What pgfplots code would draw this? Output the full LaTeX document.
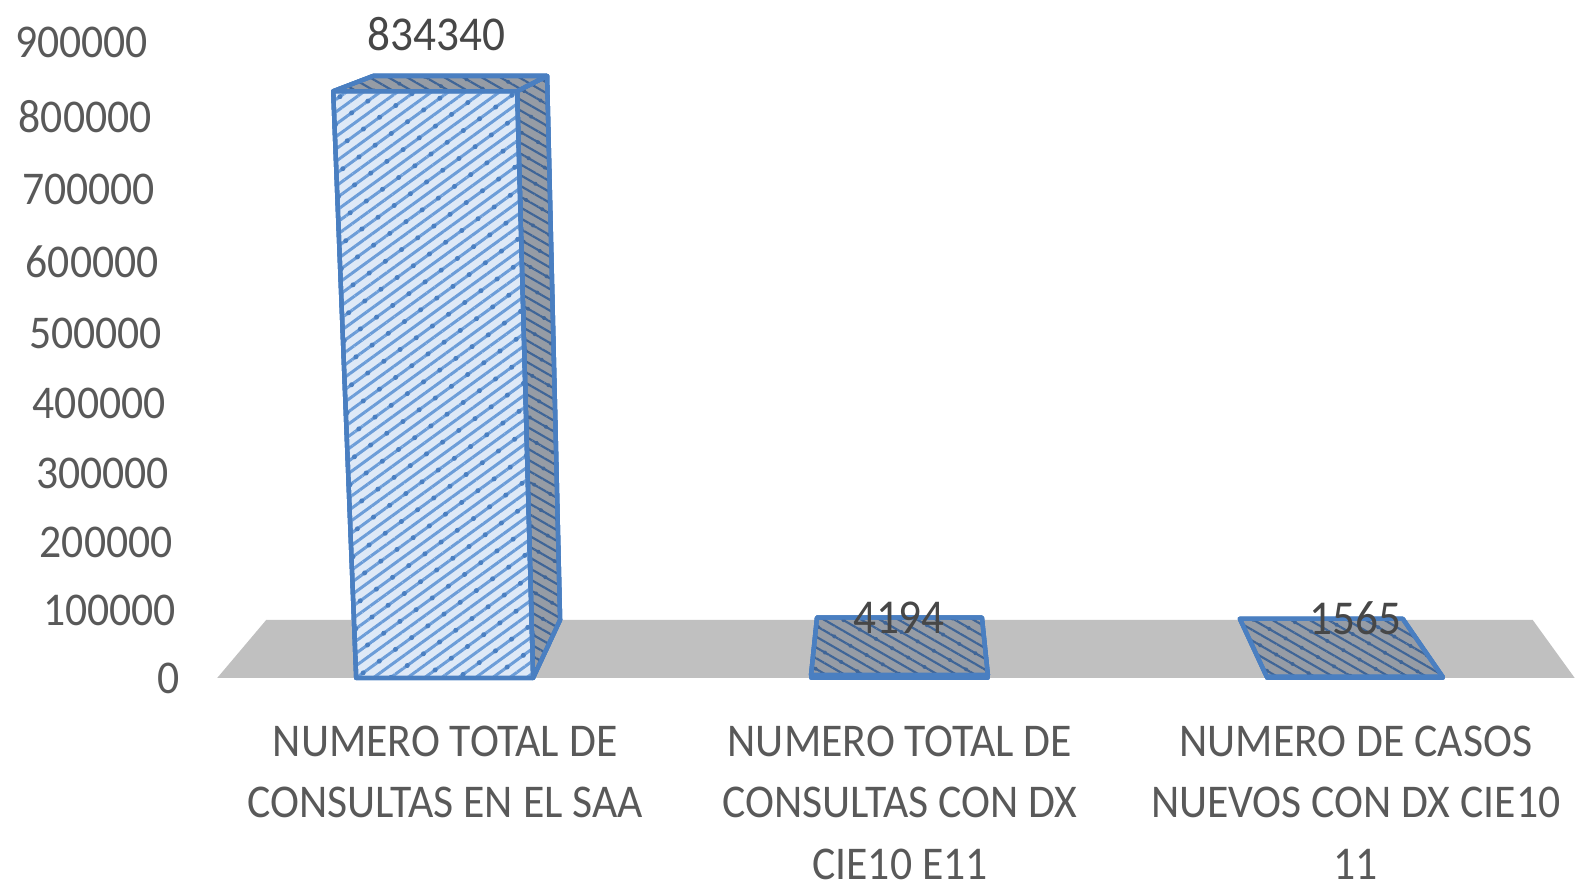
\documentclass[border=0pt]{standalone}
\usepackage{fontspec}
\setmainfont[FakeStretch=0.93]{Carlito}
\usepackage{pgfplots}
\pgfplotsset{compat=1.18}
\usetikzlibrary{patterns.meta}
\definecolor{edgeblue}{HTML}{4A7FC1}
\definecolor{hatchblue}{HTML}{6C9DD8}
\definecolor{frontblue}{HTML}{DEE9F7}
\definecolor{floorgrey}{HTML}{C0C0C0}
\definecolor{sidegrey}{HTML}{969CA5}
\definecolor{darkhatchblue}{HTML}{3F6597}
\definecolor{textgrey}{HTML}{595959}
% 1 px of the reference = 0.3pt
\tikzset{
  fronthatch/.style={
    postaction={pattern={Lines[angle=36,distance=3pt,line width=0.9pt]},pattern color=hatchblue},
    postaction={pattern={Dots[radius=0.75pt,distance=6pt,angle=36]},pattern color=edgeblue}},
  darkhatch/.style={
    postaction={pattern={Lines[angle=-30,distance=2.8pt,line width=0.65pt]},pattern color=darkhatchblue},
    postaction={pattern={Dots[radius=0.6pt,distance=5.6pt,angle=-30]},pattern color=darkhatchblue}},
  facesty/.style={draw=edgeblue,line width=1.3pt,line join=round},
}
\begin{document}
\begin{tikzpicture}
\begin{axis}[
  scale only axis, width=472.5pt, height=266.1pt,
  xmin=0, xmax=1575, ymin=-319000, ymax=956600,
  clip=false,
  axis line style={draw=none},
  major tick length=0pt,
  % the chart's own perspective spreads the values upward
  y coord trafo/.code={%
    \begingroup
    \pgfkeys{/pgf/fpu=true,/pgf/fpu/output format=fixed}%
    \pgfmathparse{66.9*(#1/100000)+0.417*(#1/100000)*(#1/100000)}%
    \global\let\mytrafores\pgfmathresult
    \endgroup
    \let\pgfmathresult\mytrafores},
  ytick={0,100000,200000,300000,400000,500000,600000,700000,800000,900000},
  yticklabel={\the\numexpr\ticknum*100000\relax\kern\dimexpr\ticknum\dimexpr 1.05pt\relax\relax},
  yticklabel style={anchor=east, xshift=54pt, inner xsep=0pt,
    font=\fontsize{14.1}{16}\selectfont, text=textgrey},
  xtick={445,900,1356},
  xticklabels={{NUMERO TOTAL DE\\CONSULTAS EN EL SAA},
    {NUMERO TOTAL DE\\CONSULTAS CON DX\\CIE10 E11},
    {NUMERO DE CASOS\\NUEVOS CON DX CIE10\\11}},
  xticklabel style={anchor=north, align=center, yshift=48.6pt, inner ysep=0pt, text depth=0pt,
    font=\fontsize{14.1}{18.45}\selectfont, text=textgrey},
]
% floor
\addplot[fill=floorgrey, draw=none] coordinates {(217,0) (266,86300) (1533,86300) (1575,0)} --cycle;
% first bar: side, top, front
\addplot[facesty, fill=sidegrey, darkhatch] coordinates {(517,834340) (547,855000) (560,86300) (533,0)} --cycle;
\addplot[facesty, fill=sidegrey, darkhatch] coordinates {(333,834340) (373,855000) (547,855000) (517,834340)} --cycle;
\addplot[facesty, fill=frontblue, fronthatch] coordinates {(356,0) (333,834340) (517,834340) (533,0)} --cycle;
% second and third bars: top face, then the thin front
\addplot[facesty, fill=sidegrey, darkhatch] coordinates {(811,4194) (817,90000) (982,90000) (988,4194)} --cycle;
\addplot[facesty, fill=edgeblue] coordinates {(811,0) (811,4194) (988,4194) (988,0)} --cycle;
\addplot[facesty, fill=sidegrey, darkhatch] coordinates {(1267,1565) (1240,88000) (1403,88000) (1443,1565)} --cycle;
\addplot[facesty, fill=edgeblue] coordinates {(1267,0) (1267,1565) (1443,1565) (1443,0)} --cycle;
% value labels
\addplot[draw=none, no markers, point meta=explicit symbolic,
  nodes near coords,
  every node near coord/.append style={anchor=center, inner sep=0pt,
    font=\fontsize{14.6}{16}\selectfont, text=black!72}]
  coordinates {(436,911000)[834340] (899,89000)[4194] (1356,89000)[1565]};
\end{axis}
\end{tikzpicture}
\end{document}
